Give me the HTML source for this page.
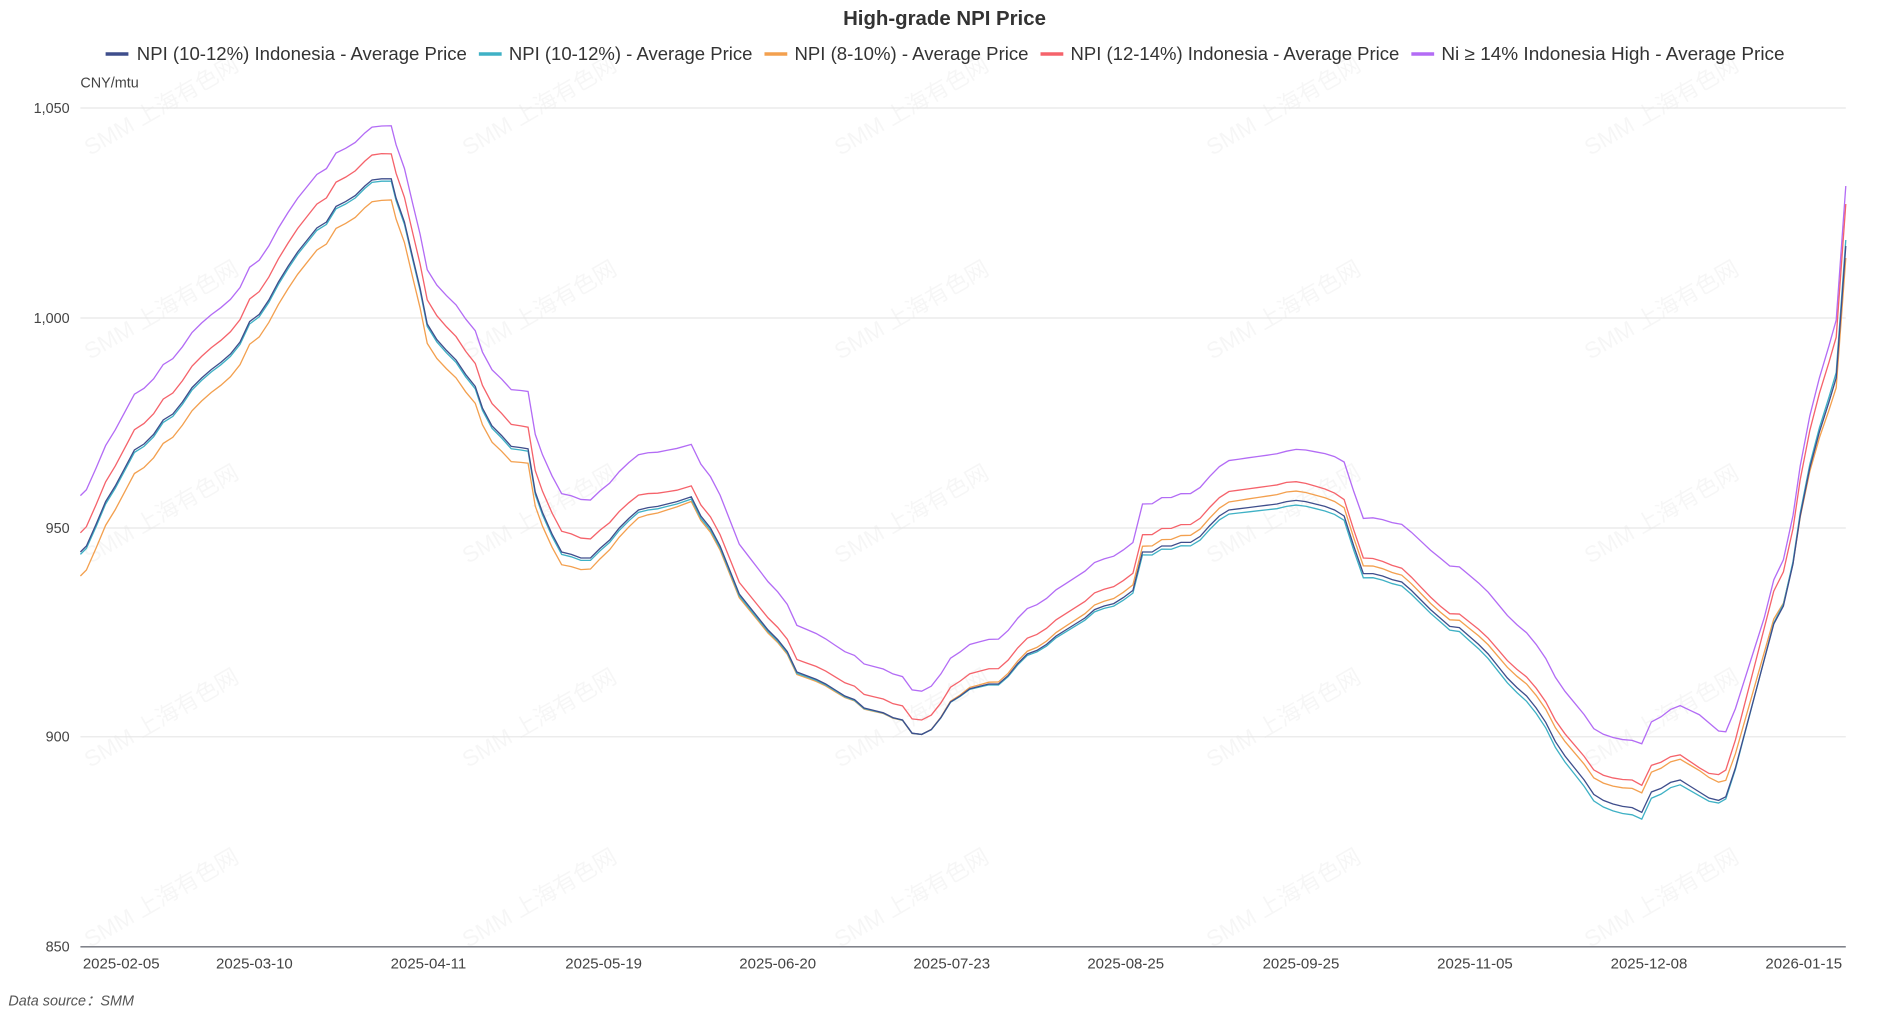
<!DOCTYPE html>
<html><head><meta charset="utf-8"><style>
html,body{margin:0;padding:0;background:#fff;}
svg{display:block;}
text{font-family:"Liberation Sans","Noto Sans CJK SC",sans-serif;}
</style></head><body>
<svg id="c" width="1883" height="1017" viewBox="0 0 1569 847.5" preserveAspectRatio="none" xmlns="http://www.w3.org/2000/svg">
<g id="wm" fill="#000" fill-opacity="0.035" font-size="19"></g>
<g stroke="#e6e6e6" stroke-width="1">
<line x1="67" x2="1538" y1="90" y2="90"/>
<line x1="67" x2="1538" y1="265" y2="265"/>
<line x1="67" x2="1538" y1="440" y2="440"/>
<line x1="67" x2="1538" y1="614" y2="614"/>
</g>
<line x1="67" x2="1538" y1="789" y2="789" stroke="#6e7079" stroke-width="1.2"/>
<g font-size="12" fill="#444" text-anchor="end">
<text x="58" y="94">1,050</text><text x="58" y="269">1,000</text><text x="58" y="444">950</text><text x="58" y="618">900</text><text x="58" y="793">850</text>
</g>
<text x="67" y="73" font-size="12" fill="#444">CNY/mtu</text>
<g font-size="12.5" fill="#444" text-anchor="middle">
<text x="101" y="807">2025-02-05</text><text x="212" y="807">2025-03-10</text><text x="357" y="807">2025-04-11</text><text x="503" y="807">2025-05-19</text><text x="648" y="807">2025-06-20</text><text x="793" y="807">2025-07-23</text><text x="938" y="807">2025-08-25</text><text x="1084" y="807">2025-09-25</text><text x="1229" y="807">2025-11-05</text><text x="1374" y="807">2025-12-08</text><text x="1503" y="807">2026-01-15</text>
</g>
<text x="787" y="21" font-size="17" font-weight="bold" fill="#333" text-anchor="middle">High-grade NPI Price</text>
<g font-size="15" fill="#333">
<line x1="88" x2="107" y1="45" y2="45" stroke="#3f4e8c" stroke-width="3"/><text x="114" y="50" textLength="275" lengthAdjust="spacingAndGlyphs">NPI (10-12%) Indonesia - Average Price</text>
<line x1="399" x2="418" y1="45" y2="45" stroke="#3fb1c5" stroke-width="3"/><text x="424" y="50" textLength="203" lengthAdjust="spacingAndGlyphs">NPI (10-12%) - Average Price</text>
<line x1="637" x2="656" y1="45" y2="45" stroke="#f3a04f" stroke-width="3"/><text x="662" y="50" textLength="195" lengthAdjust="spacingAndGlyphs">NPI (8-10%) - Average Price</text>
<line x1="867" x2="886" y1="45" y2="45" stroke="#f5636b" stroke-width="3"/><text x="892" y="50" textLength="274" lengthAdjust="spacingAndGlyphs">NPI (12-14%) Indonesia - Average Price</text>
<line x1="1176" x2="1195" y1="45" y2="45" stroke="#b36cf5" stroke-width="3"/><text x="1201" y="50" textLength="286" lengthAdjust="spacingAndGlyphs">Ni ≥ 14% Indonesia High - Average Price</text>
</g>
<text x="7" y="838" font-size="12" font-style="italic" fill="#555">Data source：SMM</text>
<g id="series" fill="none" stroke-width="1.1"></g>
</svg>
<script>
var B=[[67,460],[72,455],[80,437],[88,418],[96,405],[104,390],[112,375],[120,370],[128,362],[136,350],[144,345],[152,335],[160,323],[168,315],[176,308],[184,302],[192,295],[200,285],[208,268],[216,262],[224,250],[232,235],[240,222],[248,210],[256,200],[264,190],[272,185],[280,172],[288,168],[296,163],[304,155],[310,150],[318,149],[326,149],[330,165],[337,185],[344,215],[350,240],[356,270],[364,283],[372,292],[380,300],[388,312],[396,322],[402,340],[410,355],[418,363],[426,372],[434,373],[440,374],[446,410],[452,427],[460,445],[468,460],[476,462],[484,465],[492,465],[500,457],[508,450],[516,440],[524,432],[532,425],[540,423],[548,422],[556,420],[564,418],[576,414],[584,430],[592,440],[600,455],[608,475],[616,495],[624,505],[632,515],[640,525],[648,533],[656,543],[664,560],[672,563],[680,566],[688,570],[696,575],[704,580],[712,583],[720,590],[728,592],[736,594],[744,598],[752,600],[760,611],[768,612],[776,608],[784,598],[792,585],[800,580],[808,574],[816,572],[824,570],[832,570],[840,563],[848,553],[856,545],[864,542],[872,537],[880,530],[888,525],[896,520],[904,515],[912,508],[920,505],[928,503],[936,498],[944,492],[952,460],[960,460],[968,455],[976,455],[984,452],[992,452],[1000,447],[1008,438],[1016,430],[1024,425],[1032,424],[1040,423],[1048,422],[1056,421],[1064,420],[1072,418],[1080,417],[1088,418],[1096,420],[1104,422],[1112,425],[1120,430],[1128,455],[1136,478],[1144,478],[1152,480],[1160,483],[1168,485],[1176,492],[1184,500],[1192,508],[1200,515],[1208,522],[1216,523],[1224,530],[1232,537],[1240,545],[1248,555],[1256,565],[1264,573],[1272,580],[1280,590],[1288,602],[1296,618],[1304,630],[1312,640],[1320,650],[1328,662],[1336,667],[1344,670],[1352,672],[1360,673],[1368,677],[1376,660],[1384,657],[1392,652],[1400,650],[1408,655],[1416,660],[1424,665],[1432,667],[1438,664],[1446,640],[1454,610],[1462,580],[1470,550],[1478,520],[1486,505],[1494,470],[1500,430],[1508,390],[1516,360],[1524,335],[1530,315],[1538,205]];
function interp(k,x){if(x<=k[0][0])return k[0][1];for(var i=1;i<k.length;i++){if(x<=k[i][0]){var a=k[i-1],b=k[i];return a[1]+(b[1]-a[1])*(x-a[0])/(b[0]-a[0]);}}return k[k.length-1][1];}
var S=[
["#b36cf5",[[67,-47],[318,-44],[480,-49],[570,-44],[700,-37],[768,-36],[950,-40],[1072,-42],[1200,-50],[1360,-56],[1420,-65],[1470,-35],[1538,-50]]],
["#f5636b",[[67,-16],[318,-21],[480,-17],[570,-9],[768,-12],[1072,-16],[1200,-10],[1360,-23],[1420,-20],[1538,-35]]],
["#f3a04f",[[67,20],[318,18],[480,10],[570,4],[768,0],[1072,-8],[1200,-5],[1360,-16],[1420,-18],[1538,10]]],
["#3fb1c5",[[67,2],[318,2],[480,2],[570,2],[768,0],[1072,4],[1200,3],[1360,6],[1420,3],[1538,-5]]],
["#3f4e8c",[[67,0],[1538,0]]]
];
var g=document.getElementById('series'),ns="http://www.w3.org/2000/svg";
S.forEach(function(s){var d=B.map(function(p,i){return (i?'L':'M')+p[0]+','+(p[1]+interp(s[1],p[0])).toFixed(1);}).join('');var p=document.createElementNS(ns,'path');p.setAttribute('d',d);p.setAttribute('stroke',s[0]);g.appendChild(p);});
var wm=document.getElementById('wm');
[75,390,700,1010,1325].forEach(function(x){[130,300,470,640,790].forEach(function(y){var t=document.createElementNS(ns,'text');t.setAttribute('x',x);t.setAttribute('y',y);t.setAttribute('transform','rotate(-30 '+x+' '+y+')');t.textContent='SMM 上海有色网';wm.appendChild(t);});});
</script>
</body></html>
